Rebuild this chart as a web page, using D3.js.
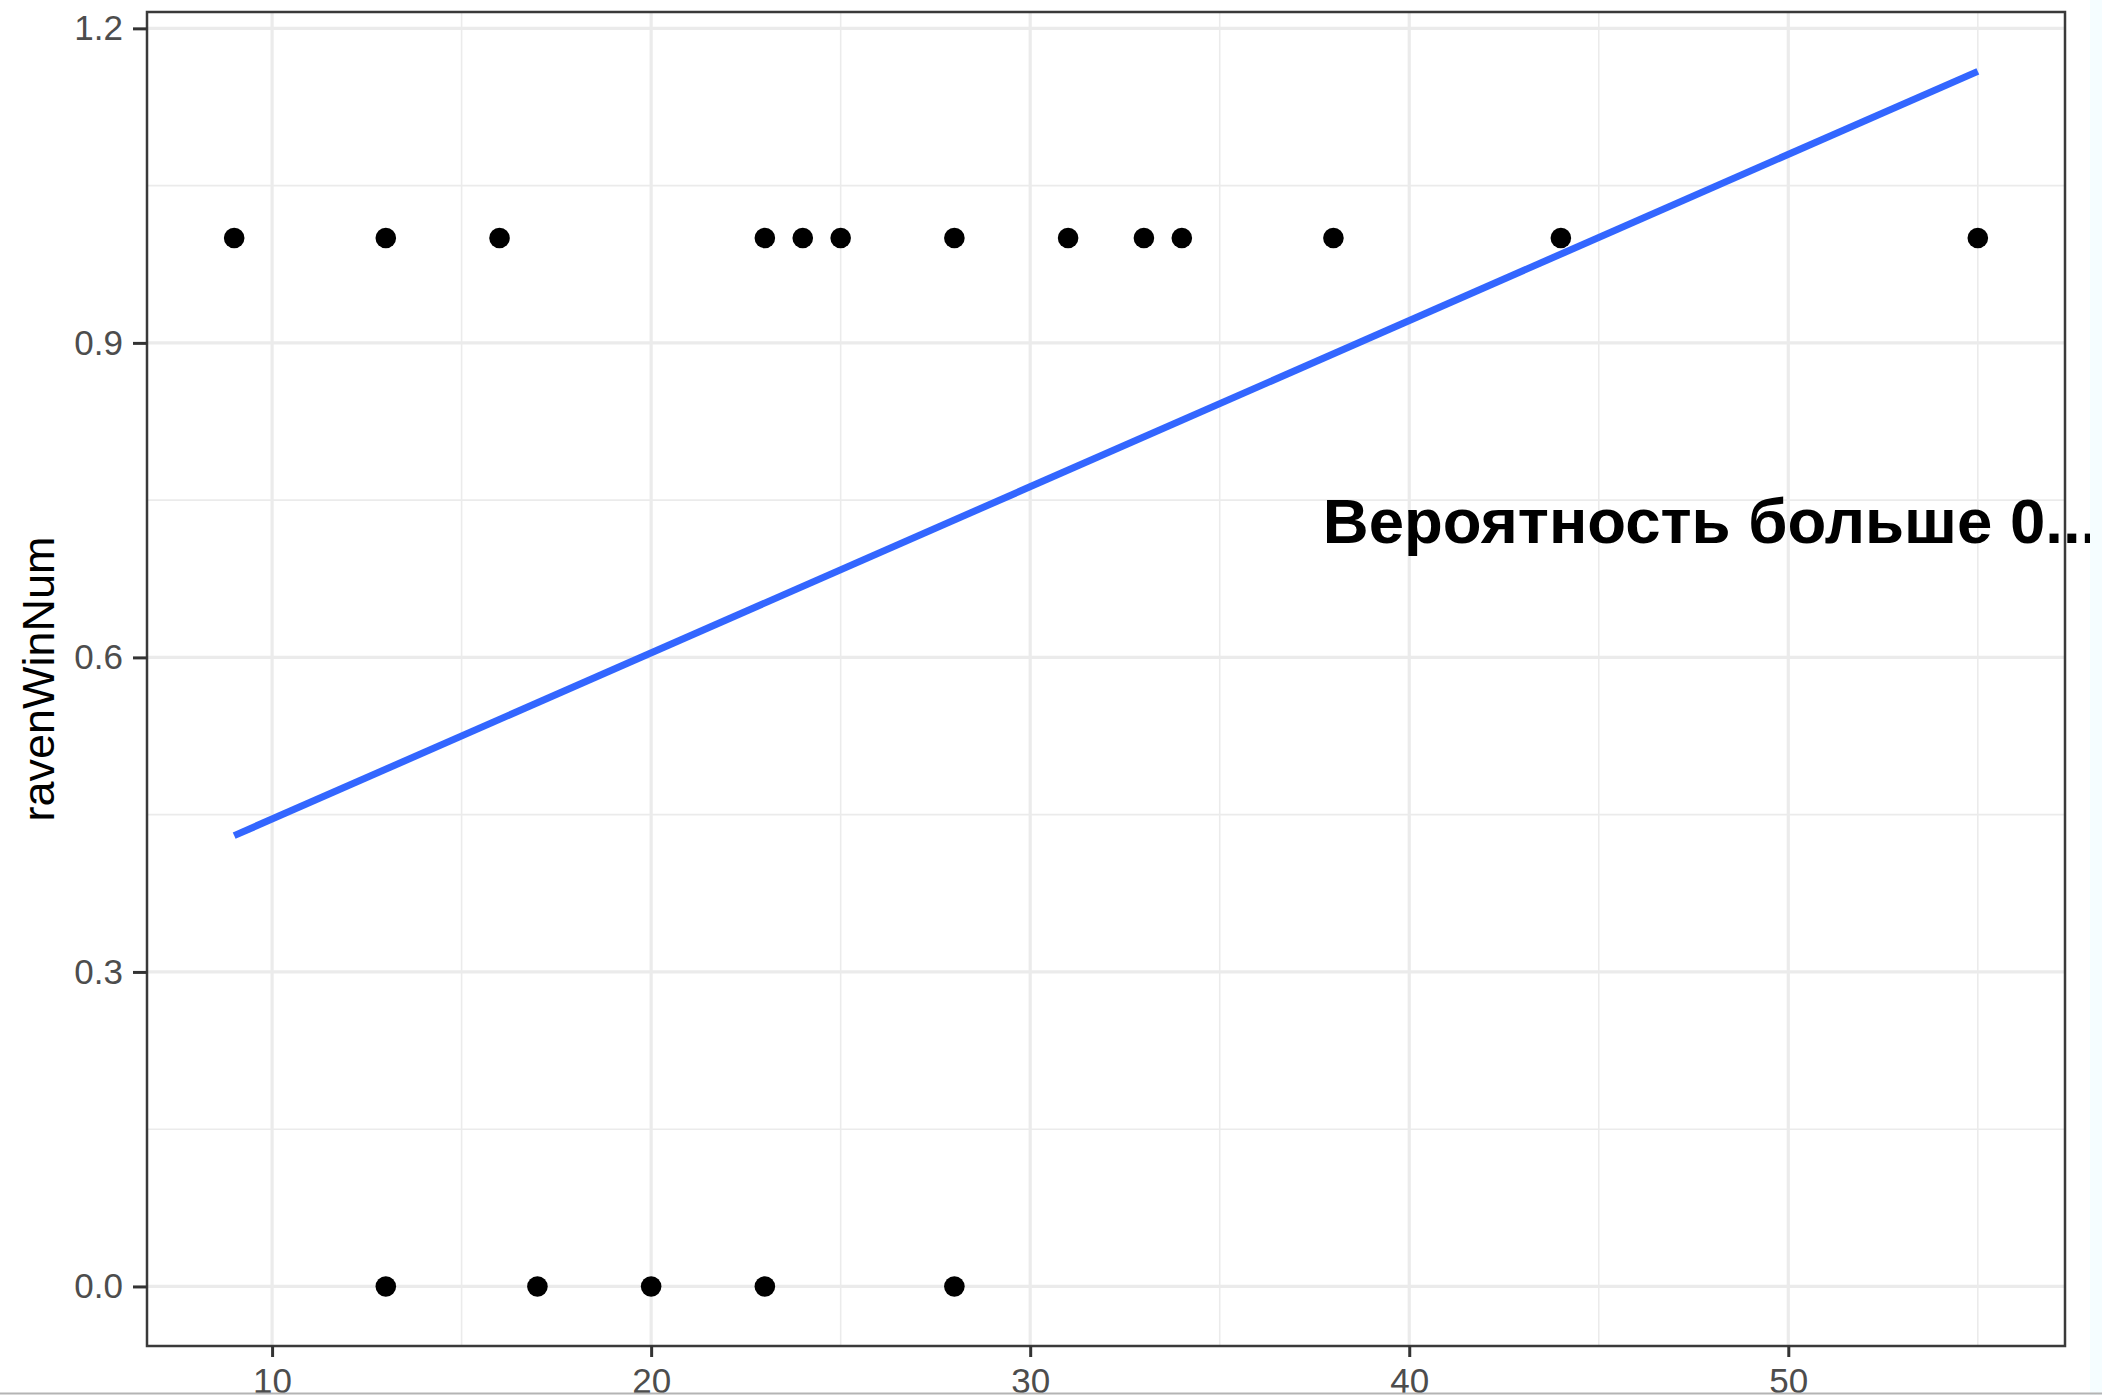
<!DOCTYPE html>
<html>
<head>
<meta charset="utf-8">
<script src="https://cdn.jsdelivr.net/npm/d3@7"></script>
<style>
  html, body { margin: 0; padding: 0; background: #ffffff; }
  svg { display: block; }
</style>
</head>
<body>
<svg id="chart" width="2102" height="1395"></svg>
<script>
// Game score vs. Ravens win indicator, with a linear fit
const gameX       = [9, 13, 16, 23, 24, 25, 28, 31, 33, 34, 38, 44, 55, 13, 17, 20, 23, 28];
const ravenWinNum = [1, 1, 1, 1, 1, 1, 1, 1, 1, 1, 1, 1, 1, 0, 0, 0, 0, 0];

// Fitted line endpoints
const fitX = [9, 55];
const fitY = [0.43, 1.159];

const xTicks = [10, 20, 30, 40, 50];
const xMinor = [15, 25, 35, 45, 55];
const yTicks = [0, 0.3, 0.6, 0.9, 1.2];
const yTickLabels = ["0.0", "0.3", "0.6", "0.9", "1.2"];
const yMinor = [0.15, 0.45, 0.75, 1.05];

const yTitle = "ravenWinNum";
const noteText = "Вероятность больше 0...";
const notePos = [37.72, 0.709];

const svg = d3.select("#chart");
const font = "'Liberation Sans', Arial, Helvetica, sans-serif";

const panel = { left: 147, right: 2065, top: 12, bottom: 1346 };

const x = d3.scaleLinear().domain([6.7, 57.3]).range([panel.left, panel.right]);
const y = d3.scaleLinear().domain([-0.0568, 1.2156]).range([panel.bottom, panel.top]);

// panel background
svg.append("rect")
  .attr("x", panel.left).attr("y", panel.top)
  .attr("width", panel.right - panel.left).attr("height", panel.bottom - panel.top)
  .attr("fill", "#ffffff");

const grid = svg.append("g");
// minor grid
grid.selectAll("line.xminor").data(xMinor).join("line")
  .attr("x1", d => x(d)).attr("x2", d => x(d))
  .attr("y1", panel.top).attr("y2", panel.bottom)
  .attr("stroke", "#ebebeb").attr("stroke-width", 1.6);
grid.selectAll("line.yminor").data(yMinor).join("line")
  .attr("y1", d => y(d)).attr("y2", d => y(d))
  .attr("x1", panel.left).attr("x2", panel.right)
  .attr("stroke", "#ebebeb").attr("stroke-width", 1.6);
// major grid
grid.selectAll("line.xmajor").data(xTicks).join("line")
  .attr("x1", d => x(d)).attr("x2", d => x(d))
  .attr("y1", panel.top).attr("y2", panel.bottom)
  .attr("stroke", "#ebebeb").attr("stroke-width", 3.2);
grid.selectAll("line.ymajor").data(yTicks).join("line")
  .attr("y1", d => y(d)).attr("y2", d => y(d))
  .attr("x1", panel.left).attr("x2", panel.right)
  .attr("stroke", "#ebebeb").attr("stroke-width", 3.2);

// points
svg.append("g").selectAll("circle")
  .data(gameX.map((v, i) => [v, ravenWinNum[i]]))
  .join("circle")
  .attr("cx", d => x(d[0])).attr("cy", d => y(d[1]))
  .attr("r", 10.3).attr("fill", "#000000");

// linear fit
svg.append("path")
  .datum(fitX.map((v, i) => [v, fitY[i]]))
  .attr("d", d3.line().x(d => x(d[0])).y(d => y(d[1])))
  .attr("fill", "none").attr("stroke", "#3366ff")
  .attr("stroke-width", 7).attr("stroke-linecap", "butt");

// panel border
svg.append("rect")
  .attr("x", panel.left).attr("y", panel.top)
  .attr("width", panel.right - panel.left).attr("height", panel.bottom - panel.top)
  .attr("fill", "none").attr("stroke", "#3a3a3a").attr("stroke-width", 2.5);

// axes
const xAxis = svg.append("g")
  .attr("transform", `translate(0,${panel.bottom})`)
  .call(d3.axisBottom(x).tickValues(xTicks).tickSize(11).tickPadding(11).tickFormat(d3.format("d")));
const yAxis = svg.append("g")
  .attr("transform", `translate(${panel.left},0)`)
  .call(d3.axisLeft(y).tickValues(yTicks).tickSize(14).tickPadding(10)
    .tickFormat((d, i) => yTickLabels[i]));

[xAxis, yAxis].forEach(a => {
  a.select(".domain").remove();
  a.selectAll(".tick line").attr("stroke", "#333333").attr("stroke-width", 3);
  a.selectAll(".tick text")
    .attr("fill", "#4d4d4d")
    .style("font-family", font)
    .style("font-size", "35px");
});

// y axis title
svg.append("text")
  .attr("transform", `translate(54,${(panel.top + panel.bottom) / 2}) rotate(-90)`)
  .attr("text-anchor", "middle")
  .style("font-family", font)
  .style("font-size", "45px")
  .attr("fill", "#000000")
  .text(yTitle);

// annotation
svg.append("text")
  .attr("x", x(notePos[0])).attr("y", y(notePos[1]))
  .style("font-family", font)
  .style("font-size", "63.5px")
  .style("font-weight", "bold")
  .attr("fill", "#000000")
  .text(noteText);

// page frame edges
svg.append("rect")
  .attr("x", 2090).attr("y", 0).attr("width", 12).attr("height", 1395)
  .attr("fill", "#f5fdff");
svg.append("line")
  .attr("x1", 0).attr("x2", 2102).attr("y1", 1393.5).attr("y2", 1393.5)
  .attr("stroke", "#b4b4b4").attr("stroke-width", 2);
</script>
</body>
</html>
